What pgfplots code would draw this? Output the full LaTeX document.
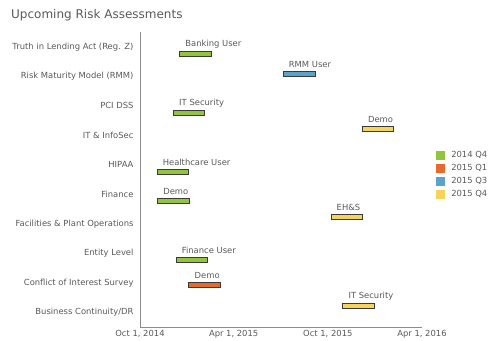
\documentclass[border=0pt]{standalone}
\usepackage{pgfplots}
\pgfplotsset{compat=1.18}
\usepackage{fontspec}
\setmainfont{DejaVu Sans}
\definecolor{txt}{HTML}{595959}
\definecolor{axl}{HTML}{8C8C8C}
\definecolor{cgreen}{HTML}{92C53E}
\definecolor{corange}{HTML}{E8692C}
\definecolor{cblue}{HTML}{5BA3C9}
\definecolor{cyellow}{HTML}{F6D45C}
\definecolor{bline}{HTML}{3A3A3A}
\newcommand{\lblfont}{\fontsize{8.4bp}{10bp}\selectfont}
\pgfplotsset{sq/.style={legend image code/.code={\fill[##1, draw=none] (0bp,-4.5bp) rectangle (9bp,4.5bp);}}}
% #1 start day, #2 end day (days since Oct 1, 2014), #3 category index, #4 series offset, #5 colour, #6 label
\newcommand{\task}[6]{%
  \pgfmathsetmacro{\yc}{#3+#4}%
  \pgfmathsetmacro{\ya}{\yc-0.08}%
  \pgfmathsetmacro{\yb}{\yc+0.08}%
  \addplot[fill=#5, draw=bline, line width=0.8bp] coordinates {(#1,\ya) (#2,\ya) (#2,\yb) (#1,\yb)} -- cycle;
  \addplot[draw=none, mark=none, nodes near coords={#6}, nodes near coords align={anchor=west},
    every node near coord/.append style={anchor=west, font=\lblfont, text=txt, xshift=5.6bp, yshift=9.5bp, inner sep=0pt}]
    coordinates {(#1,\yc)};
}
\begin{document}
\begin{tikzpicture}
\path[use as bounding box] (0,0) rectangle (500bp,341bp);
\node[anchor=base west, inner sep=0pt, text=txt, font=\fontsize{12bp}{14bp}\selectfont] at (11bp,322bp) {Upcoming Risk Assessments};
\begin{axis}[
  at={(140bp,14bp)}, anchor=south west,
  scale only axis, width=282bp, height=295bp,
  xmin=0, xmax=548, ymin=-0.5, ymax=9.5,
  axis x line*=bottom, axis y line*=left,
  axis line style={axl, line width=0.7bp},
  xtick={0,182,365,548},
  xticklabels={{Oct 1, 2014},{Apr 1, 2015},{Oct 1, 2015},{Apr 1, 2016}},
  ytick={0,1,2,3,4,5,6,7,8,9},
  yticklabels={Business Continuity/DR, Conflict of Interest Survey, Entity Level, Facilities \& Plant Operations, Finance, HIPAA, IT \& InfoSec, PCI DSS, Risk Maturity Model (RMM), Truth in Lending Act (Reg. Z)},
  major tick length=0pt,
  tick label style={font=\lblfont, text=txt},
  yticklabel style={xshift=-3bp},
  clip=false,
  legend style={draw=none, fill=none, at={(1.05,0.6)}, anchor=north west, font=\lblfont, text=txt,
    inner sep=0pt, row sep=3.4bp, column sep=5bp, nodes={inner sep=1pt}},
  legend cell align=left,
]
\addlegendimage{sq, fill=cgreen}
\addlegendimage{sq, fill=corange}
\addlegendimage{sq, fill=cblue}
\addlegendimage{sq, fill=cyellow}
\legend{2014 Q4, 2015 Q1, 2015 Q3, 2015 Q4}
% 2014 Q4 (green)
\task{77}{139}{9}{-0.235}{cgreen}{Banking User}
\task{65}{126}{7}{-0.235}{cgreen}{IT Security}
\task{33}{95}{5}{-0.235}{cgreen}{Healthcare User}
\task{34}{96}{4}{-0.235}{cgreen}{Demo}
\task{70}{131}{2}{-0.235}{cgreen}{Finance User}
% 2015 Q1 (orange)
\task{95}{156}{1}{-0.076}{corange}{Demo}
% 2015 Q3 (blue)
\task{278}{340}{8}{0.076}{cblue}{RMM User}
% 2015 Q4 (yellow)
\task{432}{493}{6}{0.22}{cyellow}{Demo}
\task{371}{432}{3}{0.22}{cyellow}{EH\&S}
\task{394}{455}{0}{0.22}{cyellow}{IT Security}
\end{axis}
\end{tikzpicture}
\end{document}
